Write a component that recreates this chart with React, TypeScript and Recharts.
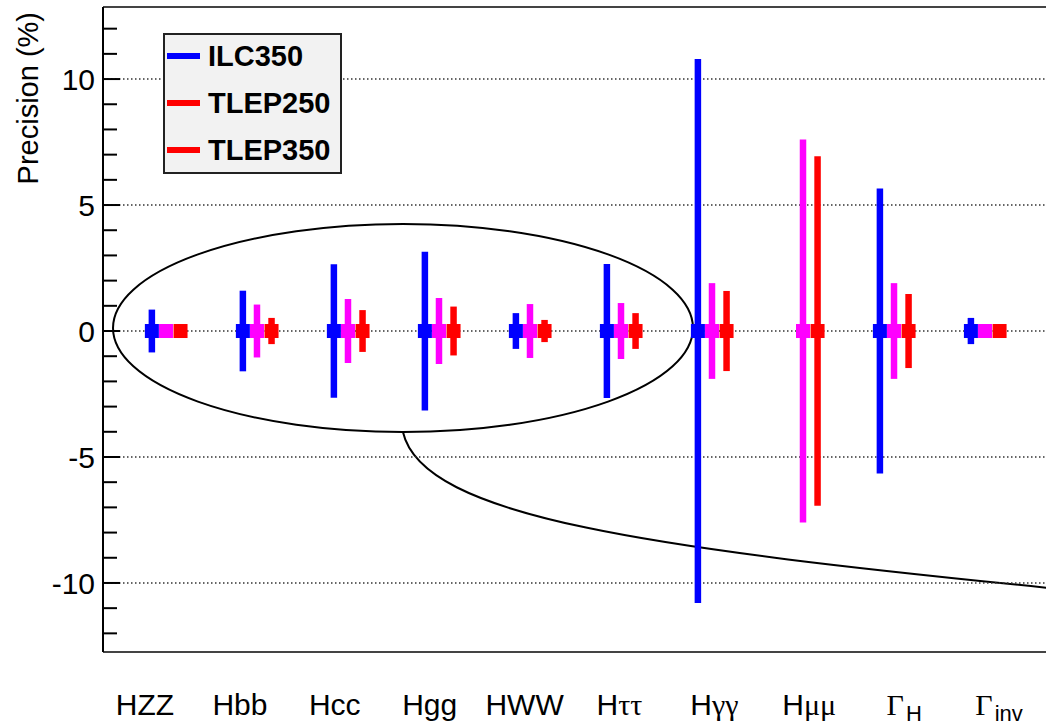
import React from "react";
import {
  ScatterChart,
  Scatter,
  ErrorBar,
  XAxis,
  YAxis,
  ReferenceLine,
  ReferenceArea,
  Legend,
} from "recharts";

// channel labels ("_" marks a subscript)
const categories = ["HZZ", "Hbb", "Hcc", "Hgg", "HWW", "Hττ", "Hγγ", "Hμμ", "Γ_H", "Γ_inv"];

// precision in %, symmetric errors
const ilc350 = [0.85, 1.6, 2.65, 3.15, 0.71, 2.66, 10.8, null, 5.66, 0.52];
const tlep250 = [0.15, 1.05, 1.27, 1.31, 1.07, 1.11, 1.9, 7.6, 1.9, 0.15];
const tlep350 = [0.15, 0.52, 0.83, 0.97, 0.44, 0.71, 1.59, 6.94, 1.47, 0.15];

const yTicks = [-10, -5, 0, 5, 10];
const yMinorTicks = [-12, -11, -10, -9, -8, -7, -6, -5, -4, -3, -2, -1, 0, 1, 2, 3, 4, 5, 6, 7, 8, 9, 10, 11, 12];
const labelTicks = categories.map((_, i) => i);

const series = [
  { name: "ILC350", values: ilc350, color: "#0000ff", legendColor: "#0000ff", offset: -0.155 },
  { name: "TLEP250", values: tlep250, color: "#ff00ff", legendColor: "#ff0000", offset: 0 },
  { name: "TLEP350", values: tlep350, color: "#ff0000", legendColor: "#ff0000", offset: 0.16 },
];

const X_DOMAIN: [number, number] = [-0.692, 9.824];
const LABEL_DOMAIN: [number, number] = [-0.4426, 9.642];
const Y_DOMAIN: [number, number] = [-12.74, 12.86];

// annotation: ellipse around the first six channels, and the swoosh below it
const ELLIPSE = { x1: -0.582, x2: 5.791, y1: -4.01, y2: 4.25 };
const SWOOSH = { x1: 2.604, x2: 9.82, y1: -10.24, y2: -4.01 };

const SANS = "'Liberation Sans', Arial, Helvetica, sans-serif";
const SERIF = "'Liberation Serif', 'DejaVu Serif', serif";

function splitGreek(s: string) {
  const parts: { t: string; greek: boolean }[] = [];
  for (const ch of s) {
    const greek = /[\u0370-\u03ff]/.test(ch);
    const last = parts[parts.length - 1];
    if (last && last.greek === greek) last.t += ch;
    else parts.push({ t: ch, greek });
  }
  return parts;
}

function CategoryTick(props: any) {
  const { x, y, payload } = props;
  const label = categories[payload.value] ?? "";
  const [main, sub] = label.split("_");
  return (
    <text x={x} y={y + 63} textAnchor="middle" fontSize={30} fill="#000" fontFamily={SANS}>
      {splitGreek(main).map((p, i) => (
        <tspan key={i} fontFamily={p.greek ? SERIF : SANS}>
          {p.t}
        </tspan>
      ))}
      {sub && (
        <tspan dy={6} fontSize={22} dx={2}>
          {sub}
        </tspan>
      )}
    </text>
  );
}

// inward ROOT-style ticks, labels only on the major ones
function YTick(props: any) {
  const { x, y, payload } = props;
  const v = payload.value;
  const major = yTicks.includes(v);
  return (
    <g>
      <line x1={x} x2={x + (major ? 17 : 14)} y1={y} y2={y} stroke="#000" strokeWidth={2} />
      {major && (
        <text x={x - 8} y={y} dy="0.355em" textAnchor="end" fontSize={30} fontFamily={SANS} fill="#000">
          {v}
        </text>
      )}
    </g>
  );
}

function EllipseShape(props: any) {
  const { x, y, width, height } = props;
  return (
    <ellipse
      cx={x + width / 2}
      cy={y + height / 2}
      rx={width / 2}
      ry={height / 2}
      fill="none"
      stroke="#000"
      strokeWidth={2}
    />
  );
}

function SwooshShape(props: any) {
  const { x, y, width: w, height: h } = props;
  const d = `M ${x} ${y} C ${x + 0.03 * w} ${y + 0.55 * h}, ${x + 0.38 * w} ${y + 0.74 * h}, ${x + w} ${y + h}`;
  return <path d={d} fill="none" stroke="#000" strokeWidth={2} />;
}

function LegendBox() {
  return (
    <div
      style={{
        position: "relative",
        width: 179,
        height: 141,
        boxSizing: "border-box",
        background: "#f2f2f2",
        border: "2px solid #222",
        fontFamily: SANS,
        fontWeight: "bold",
        fontSize: 29,
        color: "#000",
      }}
    >
      {series.map((s, i) => (
        <div key={s.name} style={{ position: "absolute", left: 2, top: 3 + i * 47, height: 36, display: "flex", alignItems: "center" }}>
          <div style={{ width: 33, height: 6, background: s.legendColor }} />
          <span style={{ marginLeft: 8, lineHeight: "36px" }}>{s.name}</span>
        </div>
      ))}
    </div>
  );
}

const hidden = () => <g />;

export default function App() {
  const data = series.map((s) =>
    s.values
      .map((v, i) => (v == null ? null : { x: i + s.offset, y: 0, err: v }))
      .filter(Boolean)
  );
  // invisible anchors so the label axis has a series bound to it
  const anchors = categories.map((_, i) => ({ x: i, y: 0 }));

  return (
    <div style={{ position: "absolute", left: 0, top: 0, width: 1046, height: 725, overflow: "hidden", background: "#fff" }}>
      <ScatterChart width={1060} height={725} margin={{ top: 7, right: 0, bottom: 0, left: 0 }}>
        <XAxis xAxisId="main" dataKey="x" type="number" domain={X_DOMAIN} allowDataOverflow hide />
        <XAxis
          xAxisId="lab"
          dataKey="x"
          type="number"
          domain={LABEL_DOMAIN}
          allowDataOverflow
          ticks={labelTicks}
          interval={0}
          height={73}
          tickSize={0}
          tickMargin={0}
          axisLine={false}
          tickLine={false}
          tick={<CategoryTick />}
        />
        <YAxis
          yAxisId="y"
          dataKey="y"
          type="number"
          domain={Y_DOMAIN}
          allowDataOverflow
          ticks={yMinorTicks}
          interval={0}
          width={103}
          tickSize={0}
          tickMargin={0}
          tickLine={false}
          axisLine={{ stroke: "#000", strokeWidth: 2 }}
          tick={<YTick />}
          label={(p: any) => {
            const vb = p.viewBox || { x: 0, y: 7 };
            return (
              <text
                transform={`translate(${vb.x + 38}, ${vb.y + 5}) rotate(-90)`}
                textAnchor="end"
                fontSize={29}
                fontFamily={SANS}
                fill="#000"
              >
                Precision (%)
              </text>
            );
          }}
        />
        {yTicks.map((t) => (
          <ReferenceLine
            key={t}
            xAxisId="main"
            yAxisId="y"
            y={t}
            stroke="#333"
            strokeWidth={1.5}
            strokeDasharray="1.5 2.5"
          />
        ))}
        {Y_DOMAIN.map((t) => (
          <ReferenceLine key={"f" + t} xAxisId="main" yAxisId="y" y={t} stroke="#444" strokeWidth={2} />
        ))}
        <Scatter xAxisId="lab" yAxisId="y" data={anchors} shape={hidden} isAnimationActive={false} legendType="none" />
        <ReferenceArea
          xAxisId="main"
          yAxisId="y"
          x1={ELLIPSE.x1}
          x2={ELLIPSE.x2}
          y1={ELLIPSE.y1}
          y2={ELLIPSE.y2}
          shape={<EllipseShape />}
        />
        <ReferenceArea
          xAxisId="main"
          yAxisId="y"
          x1={SWOOSH.x1}
          x2={SWOOSH.x2}
          y1={SWOOSH.y1}
          y2={SWOOSH.y2}
          shape={<SwooshShape />}
        />
        {series.map((s, k) => (
          <Scatter
            key={s.name}
            name={s.name}
            xAxisId="main"
            yAxisId="y"
            data={data[k] as any[]}
            fill={s.color}
            isAnimationActive={false}
            shape={(p: any) => (
              <rect x={p.cx - 7} y={p.cy - 7} width={14} height={14} fill={s.color} />
            )}
          >
            <ErrorBar dataKey="err" direction="y" width={0} stroke={s.color} strokeWidth={6.5} isAnimationActive={false} />
          </Scatter>
        ))}
        <Legend
          layout="vertical"
          align="center"
          verticalAlign="middle"
          wrapperStyle={{ left: 163, top: 33, width: 179, height: 141 }}
          content={() => <LegendBox />}
        />
      </ScatterChart>
    </div>
  );
}
